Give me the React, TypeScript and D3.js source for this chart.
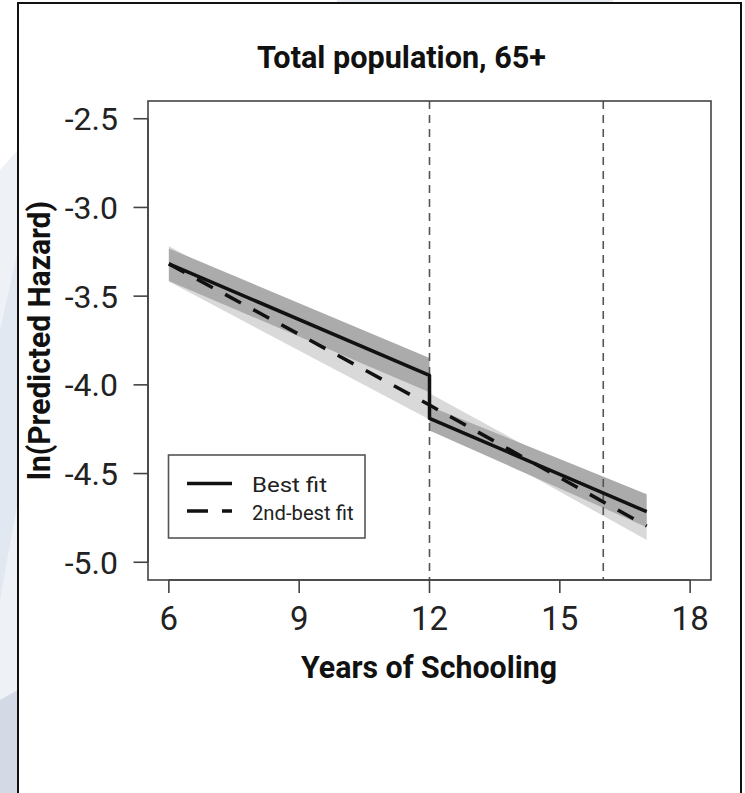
import React from "react";
import * as d3 from "d3";

// ---- data ----
const xTicks = [6, 9, 12, 15, 18];
const yTicks = [-2.5, -3.0, -3.5, -4.0, -4.5, -5.0];
const knots = [12, 16];

// Best fit: two segments with a jump at 12
const bestX1 = [6, 12];
const bestFit1 = [-3.318, -3.946];
const bestLo1 = [-3.415, -4.041];
const bestHi1 = [-3.231, -3.849];
const bestX2 = [12, 17];
const bestFit2 = [-4.189, -4.715];
const bestLo2 = [-4.257, -4.802];
const bestHi2 = [-4.121, -4.616];

// 2nd-best fit
const secX = [6, 12, 17];
const secFit = [-3.318, -4.114, -4.796];
const secX1 = [6, 12];
const secLo1 = [-3.418, -4.196];
const secHi1 = [-3.218, -4.026];
const secX2 = [12, 17];
const secLo2 = [-4.193, -4.875];
const secHi2 = [-4.047, -4.717];

const legendLabels = ["Best fit", "2nd-best fit"];

const W = 745;
const H = 793;

export default function App() {
  const x = d3.scaleLinear().domain([5.52, 18.48]).range([148, 711]);
  const y = d3.scaleLinear().domain([-5.1, -2.4]).range([580, 101]);

  const area = d3
    .area<number>()
    .x((d) => x(d))
    .y0((_, i) => 0)
    .y1((_, i) => 0);

  const band = (xs: number[], lo: number[], hi: number[]) =>
    d3
      .area<number>()
      .x((d) => x(d))
      .y0((_, i) => y(lo[i]))
      .y1((_, i) => y(hi[i]))(xs) || "";

  const line = d3
    .line<[number, number]>()
    .x((d) => x(d[0]))
    .y((d) => y(d[1]));

  const bestPts: [number, number][] = [
    ...bestX1.map((v, i) => [v, bestFit1[i]] as [number, number]),
    ...bestX2.map((v, i) => [v, bestFit2[i]] as [number, number]),
  ];
  const secPts: [number, number][] = secX.map((v, i) => [v, secFit[i]]);

  const font = "Roboto, 'Noto Sans', sans-serif";
  const [pl, pr] = x.range();
  const [pb, pt] = y.range();

  return (
    <svg
      width={W}
      height={H}
      style={{ position: "absolute", left: 0, top: 0, display: "block" }}
      fontFamily={font}
    >
      <rect x={0} y={0} width={W} height={H} fill="#ffffff" />
      {/* decorative background outside the frame */}
      <rect x={337} y={0} width={276} height={4} fill="#e8ecf2" />
      <polygon points="0,170 18,150 18,793 0,793" fill="#eef2f7" />
      <polygon points="0,330 18,250 18,500 0,600" fill="#e2e8f1" />
      <polygon points="0,700 18,690 18,793 0,793" fill="#d3dae6" />
      {/* frame */}
      <path d={`M18,${H + 2} L18,3 L741,3 L741,${H + 2}`} fill="#ffffff" stroke="#111" strokeWidth={2} />

      {/* bands */}
      <path d={band(secX1, secLo1, secHi1)} fill="#d9d9d9" />
      <path d={band(secX2, secLo2, secHi2)} fill="#d9d9d9" />
      <path d={band(bestX1, bestLo1, bestHi1)} fill="#ababab" />
      <path d={band(bestX2, bestLo2, bestHi2)} fill="#ababab" />

      {/* knot lines */}
      {knots.map((k) => (
        <line
          key={k}
          x1={x(k)}
          x2={x(k)}
          y1={pt}
          y2={pb}
          stroke="#555"
          strokeWidth={1.6}
          strokeDasharray="8 6"
        />
      ))}

      {/* fits */}
      <path
        d={line(secPts) || ""}
        fill="none"
        stroke="#111"
        strokeWidth={3.5}
        strokeDasharray="18 14"
      />
      <path
        d={line(bestPts) || ""}
        fill="none"
        stroke="#111"
        strokeWidth={3.5}
        strokeLinejoin="round"
      />

      {/* box */}
      <rect x={pl} y={pt} width={pr - pl} height={pb - pt} fill="none" stroke="#444" strokeWidth={1.6} />

      {/* x axis */}
      <line x1={x(6)} x2={x(18)} y1={pb} y2={pb} stroke="#444" strokeWidth={1.6} />
      {xTicks.map((t) => (
        <g key={t}>
          <line x1={x(t)} x2={x(t)} y1={pb} y2={pb + 13} stroke="#444" strokeWidth={1.6} />
          <text x={x(t)} y={630} textAnchor="middle" fontSize={33} fill="#222">
            {t}
          </text>
        </g>
      ))}
      {/* y axis */}
      <line x1={pl} x2={pl} y1={y(-2.5)} y2={y(-5)} stroke="#444" strokeWidth={1.6} />
      {yTicks.map((t) => (
        <g key={t}>
          <line x1={pl - 14.5} x2={pl} y1={y(t)} y2={y(t)} stroke="#444" strokeWidth={1.6} />
          <text x={118} y={y(t) + 11.5} textAnchor="end" fontSize={32} fill="#222">
            {t.toFixed(1)}
          </text>
        </g>
      ))}

      {/* titles */}
      <text
        x={401.5}
        y={67.5}
        textAnchor="middle"
        fontSize={31}
        fontWeight="bold"
        fill="#111"
        textLength={289}
        lengthAdjust="spacingAndGlyphs"
      >
        Total population, 65+
      </text>
      <text
        x={429}
        y={677.5}
        textAnchor="middle"
        fontSize={31}
        fontWeight="bold"
        fill="#111"
        textLength={256}
        lengthAdjust="spacingAndGlyphs"
      >
        Years of Schooling
      </text>
      <text
        transform={`translate(50, ${(pt + pb) / 2}) rotate(-90)`}
        textAnchor="middle"
        fontSize={32}
        fontWeight="bold"
        fill="#111"
        textLength={279}
        lengthAdjust="spacingAndGlyphs"
      >
        ln(Predicted Hazard)
      </text>

      {/* legend */}
      <rect x={168.5} y={455} width={196.5} height={83} fill="#fff" stroke="#555" strokeWidth={1.6} />
      <line x1={187} x2={232} y1={483.5} y2={483.5} stroke="#111" strokeWidth={3.5} />
      <line x1={187} x2={232} y1={511} y2={511} stroke="#111" strokeWidth={3.5} strokeDasharray="21 14" />
      <text x={252} y={491.5} fontSize={21} fill="#222" textLength={75} lengthAdjust="spacingAndGlyphs">
        {legendLabels[0]}
      </text>
      <text x={252} y={520} fontSize={21} fill="#222" textLength={101.5} lengthAdjust="spacingAndGlyphs">
        {legendLabels[1]}
      </text>
    </svg>
  );
}
